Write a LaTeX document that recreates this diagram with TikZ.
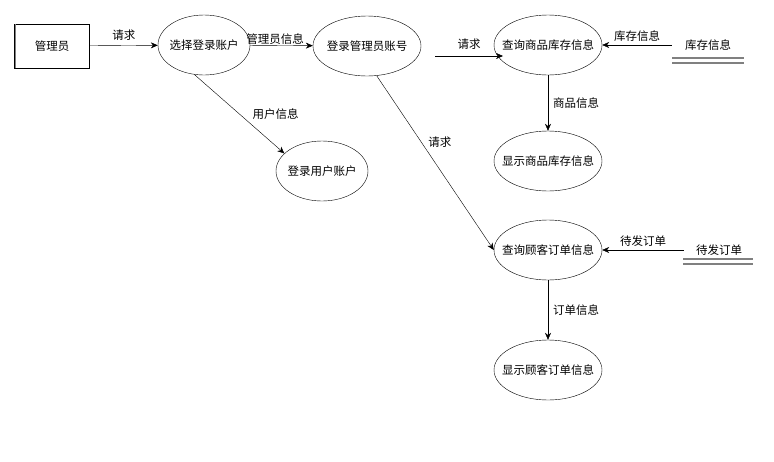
\documentclass[tikz,border=0pt]{standalone}
\usepackage{fontspec}
\setmainfont{Noto Sans CJK SC}
\usetikzlibrary{arrows.meta,shapes.geometric}
\begin{document}
\begin{tikzpicture}[x=1pt,y=-1pt,
  every node/.style={font=\fontsize{11.5}{13}\selectfont},
  proc/.style={draw,ellipse,minimum width=#1,minimum height=60,inner ysep=0,inner xsep=-8pt},
  flow/.style={-{Stealth[length=7,width=6]}},
  lbl/.style={inner sep=1}]
\useasboundingbox (0,0) rectangle (774,461);
\node[draw,minimum width=75,minimum height=44] (adm) at (52,46) {管理员};
\draw[gray,line width=1.5] (15.5,24) -- (15.5,68);
\node[proc=92] (e1) at (204,45) {选择登录账户};
\node[proc=108] (e2) at (367,46) {登录管理员账号};
\node[proc=92] (e3) at (322,171) {登录用户账户};
\node[proc=108] (e4) at (548,45) {查询商品库存信息};
\node[proc=108] (e5) at (548,161) {显示商品库存信息};
\node[proc=108] (e6) at (548,250) {查询顾客订单信息};
\node[proc=108] (e7) at (548,370) {显示顾客订单信息};
\node[inner sep=0,minimum width=72,minimum height=20] (s1) at (708,45) {库存信息};
\draw[gray,line width=1.2] (672,58) -- (744,58) (672,63) -- (744,63);
\node[inner sep=0,minimum width=70,minimum height=20] (s2) at (719,250) {待发订单};
\draw[gray,line width=1.2] (683,259) -- (753,259) (683,264) -- (753,264);
\coordinate (c1) at (435,56);
\coordinate (e4in) at (503,56);
\draw[flow] (adm) -- (e1) node[midway,above=4,lbl] {请求};
\draw[flow] (e1) -- (e2) node[pos=0.4,above=0,lbl] {管理员信息};
\draw[flow] (e1.-108) -- (e3.155) node[midway,right=12,lbl] {用户信息};
\draw[flow] (c1) -- (e4in) node[midway,above=5,lbl] {请求};
\draw[flow] (e2.-72) -- (e6.west) node[pos=0.38,right=6,lbl] {请求};
\draw[flow] (s1.west) -- (e4.east) node[midway,above=2,lbl] {库存信息};
\draw[flow] (e4) -- (e5) node[midway,right=4,lbl] {商品信息};
\draw[flow] (s2.west) -- (e6.east) node[midway,above=2,lbl] {待发订单};
\draw[flow] (e6) -- (e7) node[midway,right=4,lbl] {订单信息};
\end{tikzpicture}
\end{document}
